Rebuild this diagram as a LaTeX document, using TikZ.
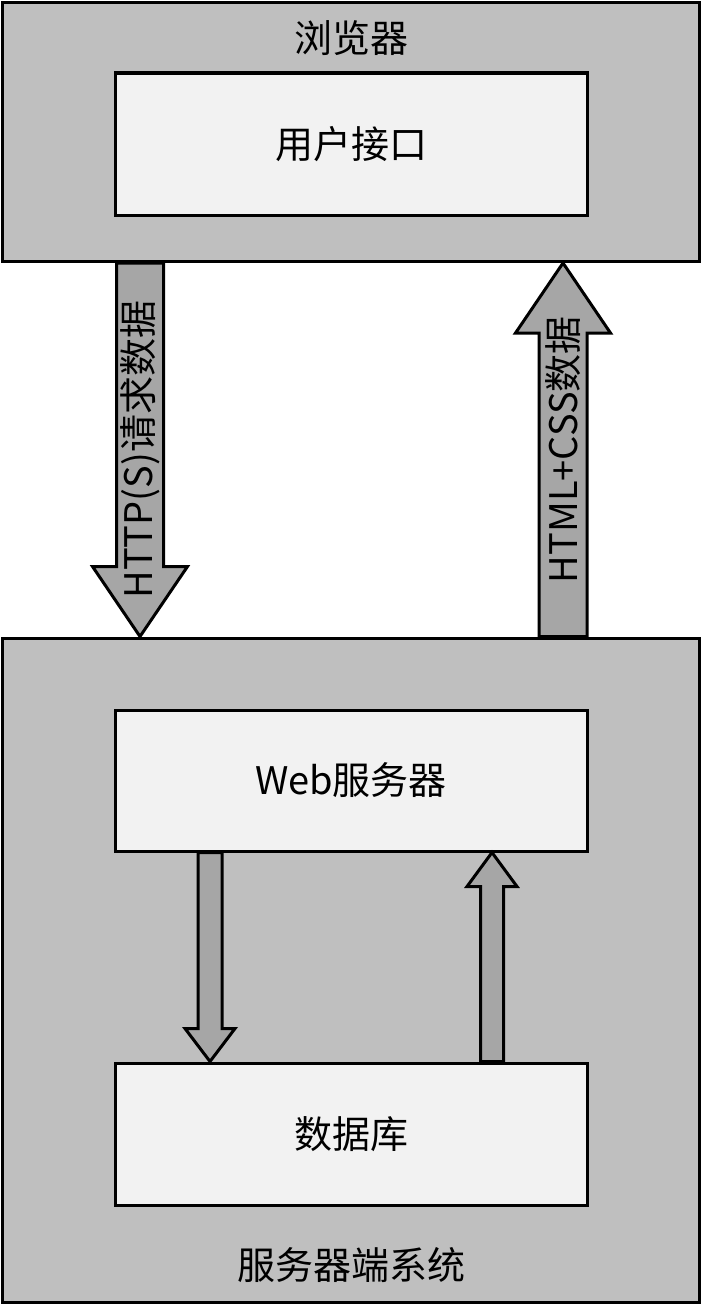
\documentclass[tikz,border=0pt]{standalone}
\usepackage{fontspec}
\setmainfont{Noto Sans CJK SC}
\usetikzlibrary{calc,positioning}
\definecolor{boxgray}{HTML}{BFBFBF}
\definecolor{innergray}{HTML}{F2F2F2}
\definecolor{arrowgray}{HTML}{A6A6A6}
\tikzset{
    raw box/.style={rectangle, line width=3pt, draw, black, inner sep=0pt},
    outer box/.style={raw box, fill=boxgray, minimum width=697pt},
    inner box/.style={raw box, fill=innergray, minimum width=472pt},
    caption/.style={font=\fontsize{38}{44}\selectfont, inner sep=0pt},
    flow/.style={draw, line width=3pt, line join=miter, fill=arrowgray}
}
% block arrow: #1 from, #2 to, #3 half shaft, #4 half head, #5 head length
\newcommand\blockarrow[5]{%
    \path[flow] let \p1=(#1), \p2=(#2), \n1={sign(\y2-\y1)} in
        ({\x1-#3},\y1) -- ({\x1-#3},{\y2-\n1*#5}) -- ({\x1-#4},{\y2-\n1*#5})
        -- (\x2,\y2) -- ({\x1+#4},{\y2-\n1*#5}) -- ({\x1+#3},{\y2-\n1*#5})
        -- ({\x1+#3},\y1) -- cycle;
}

\begin{document}
\begin{tikzpicture}[x=1pt,y=-1pt]
    \useasboundingbox (0,0) rectangle (703,1306);
    % browser side
    \node[outer box, minimum height=259pt] (browser) at (351,132) {};
    \node[caption] (browser label) at (351,38) {浏览器};
    \node[inner box, minimum height=142pt] (ui) at (351,144) {\fontsize{38}{44}\selectfont 用户接口};
    % server side
    \node[outer box, minimum height=664pt] (server) at (351,970) {};
    \node[inner box, minimum height=141pt] (web) at (351,780.5) {\fontsize{38}{44}\selectfont Web服务器};
    \node[inner box, minimum height=142pt] (db) at (351,1134) {\fontsize{38}{44}\selectfont 数据库};
    \node[caption] (server label) at (351,1265) {服务器端系统};
    % arrow positions
    \coordinate (req) at (140,0);
    \coordinate (resp) at (563,0);
    \coordinate (query) at (210,0);
    \coordinate (result) at (492,0);
    \blockarrow{req |- browser.south}{req |- server.north}{23.5pt}{47.5pt}{70pt}
    \blockarrow{resp |- server.north}{resp |- browser.south}{24pt}{47.5pt}{70pt}
    \blockarrow{query |- web.south}{query |- db.north}{12pt}{25pt}{33pt}
    \blockarrow{result |- db.north}{result |- web.south}{11.5pt}{25pt}{34pt}
    \node[caption, rotate=90] (req label) at ($(req |- browser.south)!0.5!(req |- server.north)$) {HTTP(S)请求数据};
    \node[caption, rotate=90] (resp label) at ($(resp |- browser.south)!0.5!(resp |- server.north)$) {HTML+CSS数据};
\end{tikzpicture}
\end{document}
